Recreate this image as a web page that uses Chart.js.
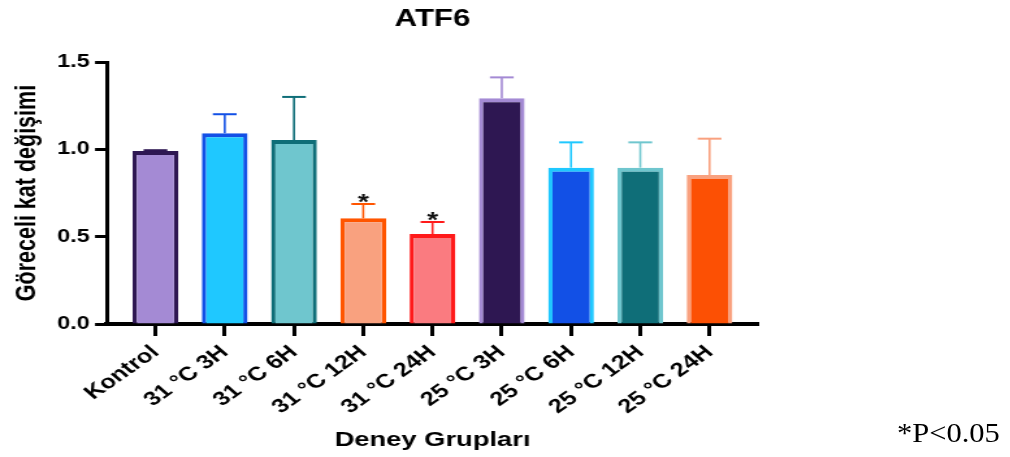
<!DOCTYPE html>
<html><head><meta charset="utf-8">
<script src="https://cdn.jsdelivr.net/npm/chart.js@4/dist/chart.umd.min.js"></script>
<style>
html,body{margin:0;padding:0;background:#fff;overflow:hidden;width:1010px;height:457px;}
#wrap{position:absolute;left:0;top:0;width:777px;height:457px;transform:scaleX(1.3);transform-origin:0 0;}
#note{position:absolute;left:897px;top:419px;line-height:28px;font-family:'Liberation Serif','Times New Roman',serif;font-size:28px;color:#000;transform:scaleX(1.09);transform-origin:0 0;white-space:nowrap;}
</style></head><body>
<div id="wrap"><canvas id="c" width="777" height="457"></canvas></div>
<div id="note">*P&lt;0.05</div>
<script>
// ---- data ----
const categories = ['Kontrol', '31 °C 3H', '31 °C 6H', '31 °C 12H', '31 °C 24H', '25 °C 3H', '25 °C 6H', '25 °C 12H', '25 °C 24H'];
const values = [0.99, 1.092, 1.053, 0.605, 0.515, 1.292, 0.895, 0.895, 0.853];
const errors = [0.005, 0.109, 0.247, 0.082, 0.069, 0.12, 0.145, 0.145, 0.208];
const significance = ['', '', '', '*', '*', '', '', '', ''];
const fillColors = ['#A48AD4', '#1FC8FF', '#6FC6CE', '#F9A17F', '#FA7B80', '#2E1752', '#1250E6', '#0F6E78', '#FC5004'];
const borderColors = ['#2E1752', '#1250E6', '#0F6E78', '#FF5500', '#FF1A1A', '#A48AD4', '#1FC8FF', '#6FC6CE', '#F9A17F'];
const titleText = 'ATF6';
const xTitle = 'Deney Grupları';
const yTitle = 'Göreceli kat değişimi';
const yTickStep = 0.5;

const FONT = "'Liberation Sans', Arial, Helvetica, sans-serif";

const errorBars = {
  id: 'errorBars',
  afterDatasetsDraw(chart) {
    const ctx = chart.ctx;
    const y = chart.scales.y;
    const meta = chart.getDatasetMeta(0);
    meta.data.forEach((bar, i) => {
      const top = y.getPixelForValue(values[i] + errors[i]);
      const half = bar.width * 0.26;
      ctx.save();
      ctx.strokeStyle = borderColors[i];
      ctx.lineWidth = 1.6;
      ctx.beginPath(); ctx.moveTo(bar.x, bar.y); ctx.lineTo(bar.x, top); ctx.stroke();
      ctx.lineWidth = 2;
      ctx.beginPath(); ctx.moveTo(bar.x - half, top); ctx.lineTo(bar.x + half, top); ctx.stroke();
      if (significance[i]) {
        ctx.fillStyle = '#111';
        ctx.font = 'bold 22px ' + FONT;
        ctx.textAlign = 'center';
        ctx.textBaseline = 'alphabetic';
        ctx.fillText(significance[i], bar.x, top + 5);
      }
      ctx.restore();
    });
  }
};

new Chart(document.getElementById('c'), {
  type: 'bar',
  data: {
    datasets: [{
      data: values.map((v, i) => ({ x: i, y: v })),
      backgroundColor: fillColors,
      borderColor: borderColors,
      borderWidth: { top: 4, left: 3.3, right: 3.3, bottom: 0 },
      barPercentage: 0.66,
      categoryPercentage: 1
    }]
  },
  options: {
    responsive: false,
    animation: false,
    layout: { padding: { left: 0, right: 193.9, top: 0, bottom: 0 } },
    plugins: {
      legend: { display: false },
      tooltip: { enabled: false },
      title: {
        display: true, text: titleText, fullSize: false, color: '#000',
        font: { family: FONT, size: 24, weight: 'bold' },
        padding: { top: 5, bottom: 28.2 }
      }
    },
    scales: {
      x: {
        type: 'linear', min: -0.7, max: 8.7, offset: false,
        border: { display: true, color: '#000', width: 4 },
        grid: { display: true, offset: false, drawOnChartArea: false, drawTicks: true, tickLength: 12, tickWidth: 3, tickColor: '#000' },
        ticks: {
          stepSize: 1, autoSkip: false, includeBounds: false, minRotation: 42, maxRotation: 42, padding: 5,
          color: '#000', font: { family: FONT, size: 19.5, weight: 'bold' },
          callback: (v) => (categories[v] !== undefined ? categories[v] : '')
        },
        title: { display: true, text: xTitle, color: '#000', font: { family: FONT, size: 21, weight: 'bold' }, padding: { top: 0, bottom: 4 } },
        afterFit(s) { s.height = 133; }
      },
      y: {
        min: 0, max: 1.5,
        border: { display: true, color: '#000', width: 3 },
        grid: { display: true, drawOnChartArea: false, drawTicks: true, tickLength: 9.2, tickWidth: 3, tickColor: '#000' },
        ticks: {
          stepSize: yTickStep, padding: 4, color: '#000',
          font: { family: FONT, size: 18, weight: 'bold' },
          callback: (v) => Number(v).toFixed(1)
        },
        title: { display: true, text: yTitle, align: 'center', color: '#000', font: { family: FONT, size: 21.5, weight: 'bold' }, padding: { top: 8, bottom: 0 } },
        afterFit(s) { s.width = 82.3; }
      }
    }
  },
  plugins: [errorBars]
});
</script>
</body></html>
